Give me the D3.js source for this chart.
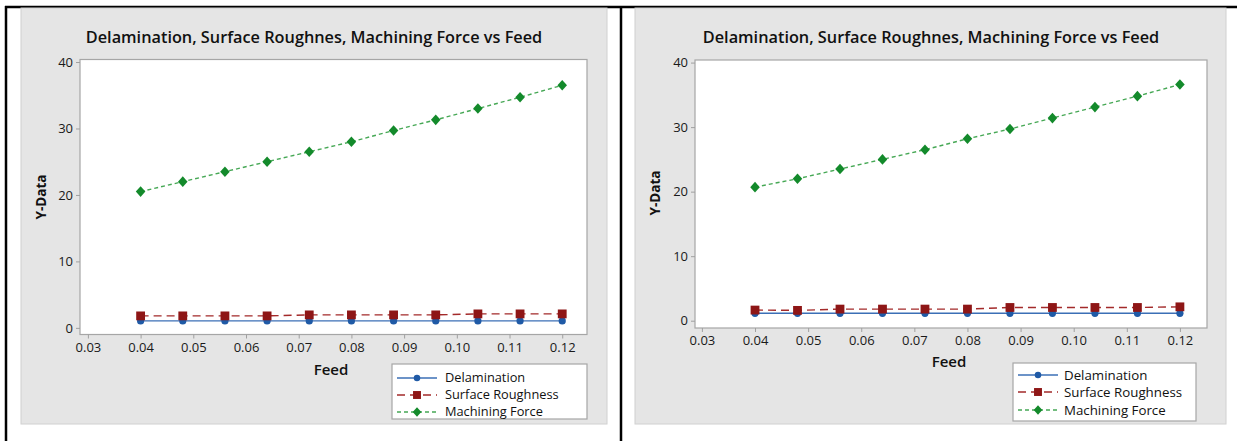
<!DOCTYPE html>
<html>
<head>
<meta charset="utf-8">
<script src="https://cdn.jsdelivr.net/npm/d3@7"></script>
<style>
  html, body { margin: 0; padding: 0; background: #ffffff; }
  svg { display: block; font-family: "Open Sans", "Noto Sans", sans-serif; }
</style>
</head>
<body>
<svg id="chart" width="1237" height="441"></svg>
<script>
// Feed values (x) shared by both panels
const feed = [0.04, 0.048, 0.056, 0.064, 0.072, 0.08, 0.088, 0.096, 0.104, 0.112, 0.12];
const xTicks = [0.03, 0.04, 0.05, 0.06, 0.07, 0.08, 0.09, 0.10, 0.11, 0.12];
const yTicks = [0, 10, 20, 30, 40];
const seriesNames = ["Delamination", "Surface Roughness", "Machining Force"];
const titleText = "Delamination, Surface Roughnes, Machining Force vs Feed";
const xLabel = "Feed";
const yLabel = "Y-Data";

// Left panel series
const delamLeft = [1.05, 1.05, 1.05, 1.05, 1.05, 1.05, 1.05, 1.05, 1.05, 1.05, 1.05];
const roughLeft = [1.8, 1.8, 1.8, 1.8, 1.95, 1.95, 1.95, 1.95, 2.1, 2.1, 2.1];
const forceLeft = [20.5, 22.0, 23.5, 25.0, 26.5, 28.0, 29.7, 31.3, 33.0, 34.7, 36.5];

// Right panel series
const delamRight = [1.15, 1.15, 1.15, 1.15, 1.15, 1.15, 1.15, 1.15, 1.15, 1.15, 1.15];
const roughRight = [1.65, 1.6, 1.8, 1.8, 1.8, 1.8, 2.05, 2.05, 2.05, 2.05, 2.15];
const forceRight = [20.7, 22.0, 23.5, 25.0, 26.5, 28.2, 29.7, 31.4, 33.1, 34.8, 36.6];

const svg = d3.select("#chart");

// Outer frame lines
const frame = svg.append("g").attr("stroke", "#000").attr("stroke-width", 2.5);
frame.append("line").attr("x1", 5).attr("x2", 1237).attr("y1", 7).attr("y2", 7);
frame.append("line").attr("x1", 6).attr("x2", 6).attr("y1", 6).attr("y2", 441);
frame.append("line").attr("x1", 621).attr("x2", 621).attr("y1", 6).attr("y2", 441);

const styles = [
  { line: "#3b6fb6", marker: "#1f5aa6", dash: null, shape: "circle" },
  { line: "#a32a2a", marker: "#8e1616", dash: "8,5", shape: "square" },
  { line: "#46a855", marker: "#138a2b", dash: "4,3", shape: "diamond" }
];

function drawMarker(g, shape, color, cx, cy, s) {
  if (shape === "circle") {
    g.append("circle").attr("cx", cx).attr("cy", cy).attr("r", 3.6 * s).attr("fill", color);
  } else if (shape === "square") {
    const h = 4.4 * s;
    g.append("rect").attr("x", cx - h).attr("y", cy - h).attr("width", 2 * h).attr("height", 2 * h).attr("fill", color);
  } else {
    const h = 5.3 * s;
    g.append("path")
      .attr("d", `M${cx},${cy - h}L${cx + h * 0.9},${cy}L${cx},${cy + h}L${cx - h * 0.9},${cy}Z`)
      .attr("fill", color);
  }
}

function drawPanel(p) {
  const g = svg.append("g");
  // grey panel background
  g.append("rect").attr("x", p.bg[0]).attr("y", p.bg[1]).attr("width", p.bg[2]).attr("height", p.bg[3])
    .attr("fill", "#e5e5e5").attr("stroke", "#d0d0d0");

  const x = d3.scaleLinear().domain(p.xDomain).range([p.left, p.right]);
  const y = d3.scaleLinear().domain(p.yDomain).range([p.bottom, p.top]);

  // plot area
  g.append("rect").attr("x", p.left).attr("y", p.top)
    .attr("width", p.right - p.left).attr("height", p.bottom - p.top)
    .attr("fill", "#fff").attr("stroke", "#a6a6a6").attr("stroke-width", 1.2);

  // title
  g.append("text").attr("x", p.titleX).attr("y", 43).attr("text-anchor", "middle")
    .attr("font-size", 16.3).attr("font-weight", 600).attr("fill", "#111").text(titleText);

  // axes
  const xAxis = d3.axisBottom(x).tickValues(xTicks).tickFormat(d3.format(".2f")).tickSizeOuter(0).tickSize(4).tickPadding(4);
  const gx = g.append("g").attr("transform", `translate(0,${p.bottom})`).call(xAxis);
  gx.select(".domain").remove();
  gx.selectAll(".tick line").attr("stroke", "#a0a0a0");
  gx.selectAll(".tick text").attr("font-size", 13).attr("fill", "#1a1a1a")
    .attr("font-family", "'Open Sans', sans-serif");

  const yAxis = d3.axisLeft(y).tickValues(yTicks).tickFormat(d3.format("d")).tickSizeOuter(0).tickSize(4).tickPadding(3);
  const gy = g.append("g").attr("transform", `translate(${p.left},0)`).call(yAxis);
  gy.select(".domain").remove();
  gy.selectAll(".tick line").attr("stroke", "#a0a0a0");
  gy.selectAll(".tick text").attr("font-size", 13).attr("fill", "#1a1a1a")
    .attr("font-family", "'Open Sans', sans-serif");

  // axis titles
  g.append("text").attr("x", p.feedX).attr("y", p.feedY).attr("text-anchor", "middle")
    .attr("font-size", 15).attr("font-weight", 600).attr("fill", "#111").text(xLabel);
  g.append("text").attr("transform", `translate(${p.yLabX},${p.yLabY}) rotate(-90)`)
    .attr("text-anchor", "middle").attr("font-size", 13.5).attr("font-weight", 700)
    .attr("fill", "#111").text(yLabel);

  // series
  const seriesData = [p.delam, p.rough, p.force];
  seriesData.forEach((vals, i) => {
    const st = styles[i];
    const pts = feed.map((f, j) => [f, vals[j]]);
    const line = d3.line().x(d => x(d[0])).y(d => y(d[1]));
    g.append("path").attr("d", line(pts)).attr("fill", "none")
      .attr("stroke", st.line).attr("stroke-width", 1.4)
      .attr("stroke-dasharray", st.dash);
  });
  // markers drawn after lines; roughness above delamination
  [0, 1, 2].forEach(i => {
    const st = styles[i];
    const mg = g.append("g");
    feed.forEach((f, j) => drawMarker(mg, st.shape, st.marker, x(f), y(seriesData[i][j]), 1));
  });

  // legend
  const L = p.legend;
  const lg = g.append("g");
  lg.append("rect").attr("x", L.x).attr("y", L.y).attr("width", L.w).attr("height", L.h)
    .attr("fill", "#fff").attr("stroke", "#a6a6a6").attr("stroke-width", 1.2);
  seriesNames.forEach((name, i) => {
    const st = styles[i];
    const cy = L.rows[i];
    lg.append("line").attr("x1", L.sx1).attr("x2", L.sx2).attr("y1", cy).attr("y2", cy)
      .attr("stroke", st.line).attr("stroke-width", 1.4).attr("stroke-dasharray", st.dash);
    drawMarker(lg, st.shape, st.marker, (L.sx1 + L.sx2) / 2, cy, 0.9);
    lg.append("text").attr("x", L.tx).attr("y", cy).attr("dy", "0.35em")
      .attr("font-size", L.fs).attr("fill", "#111").text(name);
  });
}

drawPanel({
  bg: [21, 8, 586, 416],
  left: 80, right: 587, top: 59.5, bottom: 334.5,
  xDomain: [0.0285, 0.1247], yDomain: [-1.0, 40.38],
  titleX: 314, feedX: 331, feedY: 375, yLabX: 46, yLabY: 197,
  delam: delamLeft, rough: roughLeft, force: forceLeft,
  legend: { x: 392, y: 364, w: 195, h: 55, rows: [378, 395, 412], sx1: 397, sx2: 437, tx: 445, fs: 12.8 }
});

drawPanel({
  bg: [635, 8, 591, 416],
  left: 695, right: 1207, top: 60, bottom: 328,
  xDomain: [0.0287, 0.1251], yDomain: [-1.13, 40.4],
  titleX: 931, feedX: 949, feedY: 367, yLabX: 660, yLabY: 193,
  delam: delamRight, rough: roughRight, force: forceRight,
  legend: { x: 1013, y: 363, w: 183, h: 58, rows: [375, 392, 410], sx1: 1018, sx2: 1058, tx: 1064, fs: 13.3 }
});
</script>
</body>
</html>
